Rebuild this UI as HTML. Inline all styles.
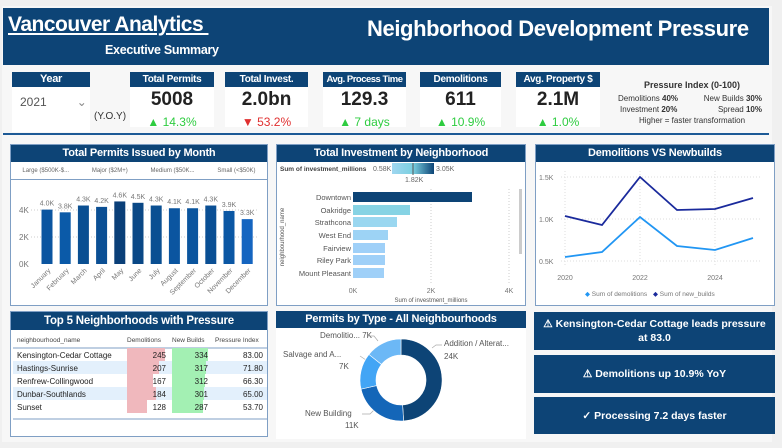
<!DOCTYPE html><html><head><meta charset="utf-8"><style>
*{margin:0;padding:0;box-sizing:border-box}
body{width:782px;height:448px;background:#f0f0f0;font-family:"Liberation Sans",sans-serif;position:relative;overflow:hidden}
.a{position:absolute}
.card{background:#fff;position:absolute}
.card .h{background:#0d4476;color:#fff;font-size:10px;text-align:center;height:15px;line-height:15px;font-weight:bold;letter-spacing:-0.3px;white-space:nowrap;overflow:hidden}
.card .v{font-size:19px;font-weight:bold;text-align:center;margin-top:2px;color:#222}
.card .c{font-size:12px;text-align:center;margin-top:4px;color:#2ecc40}
.panel{position:absolute;background:#fff;border:1px solid #7f9fc4}
.pt{background:#0d4476;color:#fff;font-weight:bold;font-size:11px;text-align:center;height:17px;line-height:17px;letter-spacing:-0.2px}
.alert{position:absolute;left:534px;width:241px;background:#0d4476;color:#fff;font-weight:bold;font-size:10.5px;text-align:center;display:flex;align-items:center;justify-content:center;line-height:14px}
</style></head><body>
<div class="a" style="left:2px;top:6px;width:770px;height:436px;background:#f7f7f7"></div>
<div class="a" style="left:3px;top:8px;width:766px;height:57px;background:#0d4476"></div>
<div class="a" style="left:8px;top:13px;color:#fff;font-size:21px;font-weight:bold;text-decoration:underline;letter-spacing:-0.5px">Vancouver Analytics&nbsp;</div>
<div class="a" style="left:105px;top:43px;color:#fff;font-size:12.5px;font-weight:bold;letter-spacing:-0.3px">Executive Summary</div>
<div class="a" style="left:367px;top:16px;color:#fff;font-size:22px;font-weight:bold;letter-spacing:-0.4px">Neighborhood Development Pressure</div>

<div class="card" style="left:12px;top:72px;width:78px;height:60px"><div class="h" style="font-size:11px">Year</div>
<div style="font-size:12px;color:#555;margin:8px 0 0 8px">2021<span style="margin-left:30px;color:#888">&#8964;</span></div></div>
<div class="a" style="left:94px;top:111px;font-size:10px;color:#333">(Y.O.Y)</div>
<div class="card" style="left:130px;top:72px;width:84px;height:55px"><div class="h">Total Permits</div><div class="v">5008</div><div class="c">▲ 14.3%</div></div>
<div class="card" style="left:225px;top:72px;width:83px;height:55px"><div class="h">Total Invest.</div><div class="v">2.0bn</div><div class="c" style="color:#e03030">▼ 53.2%</div></div>
<div class="card" style="left:323px;top:72px;width:83px;height:55px"><div class="h" style="font-size:9.5px;letter-spacing:-0.5px">Avg. Process Time</div><div class="v">129.3</div><div class="c">▲ 7 days</div></div>
<div class="card" style="left:420px;top:72px;width:81px;height:55px"><div class="h">Demolitions</div><div class="v">611</div><div class="c">▲ 10.9%</div></div>
<div class="card" style="left:516px;top:72px;width:84px;height:55px"><div class="h">Avg. Property $</div><div class="v">2.1M</div><div class="c">▲ 1.0%</div></div>
<div class="a" style="left:612px;top:80px;width:160px;font-size:8px;color:#333;line-height:11px">
<div style="text-align:center;font-size:9px;font-weight:bold;margin-bottom:2px">Pressure Index (0-100)</div>
<div style="display:flex;justify-content:space-between;padding:0 10px 0 6px"><span>Demolitions <b>40%</b></span><span>New Builds <b>30%</b></span></div>
<div style="display:flex;justify-content:space-between;padding:0 10px 0 8px"><span>Investment <b>20%</b></span><span>Spread <b>10%</b></span></div>
<div style="text-align:center">Higher = faster transformation</div></div>
<div class="a" style="left:3px;top:133px;width:766px;height:2px;background:#1d5a96"></div>

<div class="panel" style="left:10px;top:144px;width:258px;height:162px"><div class="pt">Total Permits Issued by Month</div>
<div style="display:flex;justify-content:space-around;font-size:6px;color:#666;height:16px;line-height:14px;border-bottom:1px solid #7f9fc4;margin-top:2px"><span>Large ($500K-$...</span><span>Major ($2M+)</span><span>Medium ($50K...</span><span>Small (&lt;$50K)</span></div>
<svg class="a" style="left:0;top:0" width="258" height="162" viewBox="10 144 258 162">
<g stroke="#ccc" stroke-dasharray="1 2"><line x1="30" x2="258" y1="209" y2="209"/><line x1="30" x2="258" y1="236" y2="236"/></g>
<g font-size="8" fill="#777"><text x="18" y="212">4K</text><text x="18" y="239">2K</text><text x="18" y="266">0K</text></g>
<g id="bars"></g>
</svg></div>

<div class="panel" style="left:276px;top:144px;width:250px;height:162px"><div class="pt">Total Investment by Neighborhood</div>
<svg class="a" style="left:0;top:0" width="250" height="162" viewBox="276 144 250 162">
<defs><linearGradient id="g"><stop offset="0" stop-color="#9fd6f0"/><stop offset=".5" stop-color="#7ad0e0"/><stop offset="1" stop-color="#0d4476"/></linearGradient></defs>
<text x="279" y="170" font-size="6.5" font-weight="bold" fill="#444">Sum of investment_millions</text>
<text x="372" y="170" font-size="7" fill="#666">0.58K</text>
<rect x="391" y="162" width="42" height="11" fill="url(#g)"/><line x1="412" x2="412" y1="162" y2="174" stroke="#555"/>
<text x="435" y="170" font-size="7" fill="#666">3.05K</text><text x="404" y="181" font-size="7" fill="#666">1.82K</text>
<g stroke="#ccc" stroke-dasharray="1 2"><line x1="430" x2="430" y1="188" y2="282"/><line x1="508" x2="508" y1="188" y2="282"/></g>
<rect x="518" y="188" width="3" height="65" fill="#ccc"/>
<g font-size="7.5" fill="#555" text-anchor="end"><text x="350" y="199">Downtown</text><text x="350" y="212">Oakridge</text><text x="350" y="224">Strathcona</text><text x="350" y="237">West End</text><text x="350" y="250">Fairview</text><text x="350" y="262">Riley Park</text><text x="350" y="275">Mount Pleasant</text></g>
<rect x="352" y="191" width="119" height="10" fill="#0d4476"/>
<rect x="352" y="204" width="57" height="10" fill="#86d3e4"/>
<rect x="352" y="216" width="44" height="10" fill="#9ad7f0"/>
<rect x="352" y="229" width="35" height="10" fill="#9dd3f5"/>
<rect x="352" y="242" width="32" height="10" fill="#9fd0f8"/>
<rect x="352" y="254" width="32" height="10" fill="#9fd0f8"/>
<rect x="352" y="267" width="31" height="10" fill="#9fd0f8"/>
<g font-size="7" fill="#777" text-anchor="middle"><text x="352" y="292">0K</text><text x="430" y="292">2K</text><text x="508" y="292">4K</text></g>
<text x="430" y="301" font-size="6" fill="#555" text-anchor="middle">Sum of investment_millions</text>
<text x="283" y="236" font-size="6" fill="#555" transform="rotate(-90 283 236)" text-anchor="middle">neighbourhood_name</text>
</svg></div>

<div class="panel" style="left:535px;top:144px;width:240px;height:162px"><div class="pt">Demolitions VS Newbuilds</div>
<svg class="a" style="left:0;top:0" width="240" height="162" viewBox="535 144 240 162">
<g stroke="#ddd" stroke-dasharray="1 2"><line x1="560" x2="760" y1="176" y2="176"/><line x1="560" x2="760" y1="218" y2="218"/><line x1="560" x2="760" y1="260" y2="260"/><line x1="564" x2="564" y1="170" y2="265"/><line x1="639" x2="639" y1="170" y2="265"/><line x1="714" x2="714" y1="170" y2="265"/></g>
<g font-size="7" fill="#777"><text x="538" y="179">1.5K</text><text x="538" y="221">1.0K</text><text x="538" y="263">0.5K</text></g>
<g font-size="7" fill="#777" text-anchor="middle"><text x="564" y="279">2020</text><text x="639" y="279">2022</text><text x="714" y="279">2024</text></g>
<polyline fill="none" stroke="#1a2a9c" stroke-width="1.8" points="564,215 601,224 639,176 676,209 714,208 752,197"/>
<polyline fill="none" stroke="#2196f3" stroke-width="1.8" points="564,256 601,251 639,216 676,245 714,249 752,237"/>
<g font-size="6.5" fill="#777"><text x="584" y="295"><tspan fill="#2196f3">◆</tspan> Sum of demolitions</text><text x="652" y="295"><tspan fill="#1a2a9c">◆</tspan> Sum of new_builds</text></g>
</svg></div>

<div class="panel" style="left:10px;top:311px;width:258px;height:126px"><div class="pt" style="height:18px;line-height:18px;font-size:11.5px">Top 5 Neighborhoods with Pressure</div>
<svg class="a" style="left:0;top:0" width="258" height="126" viewBox="10 311 258 126">
<g font-size="6.5" fill="#444"><text x="16" y="341">neighbourhood_name</text><text x="126" y="341">Demolitions</text><text x="171" y="341">New Builds</text><text x="214" y="341">Pressure Index</text></g>
<line x1="12" x2="266" y1="347" y2="347" stroke="#7f9fc4"/>
<rect x="12" y="360" width="254" height="13" fill="#e3f0fc"/><rect x="12" y="386" width="254" height="13" fill="#e3f0fc"/>
<g fill="#f0b8bd"><rect x="126" y="347" width="38" height="13"/><rect x="126" y="360" width="32" height="13"/><rect x="126" y="373" width="26" height="13"/><rect x="126" y="386" width="29" height="13"/><rect x="126" y="399" width="20" height="13"/></g>
<g fill="#a3f0b3"><rect x="171" y="347" width="36" height="13"/><rect x="171" y="360" width="34" height="13"/><rect x="171" y="373" width="33" height="13"/><rect x="171" y="386" width="32" height="13"/><rect x="171" y="399" width="31" height="13"/></g>
<g font-size="8" fill="#222"><text x="16" y="357">Kensington-Cedar Cottage</text><text x="16" y="370">Hastings-Sunrise</text><text x="16" y="383">Renfrew-Collingwood</text><text x="16" y="396">Dunbar-Southlands</text><text x="16" y="409">Sunset</text></g>
<g font-size="8" fill="#222" text-anchor="end"><text x="165" y="357">245</text><text x="165" y="370">207</text><text x="165" y="383">167</text><text x="165" y="396">184</text><text x="165" y="409">128</text>
<text x="207" y="357">334</text><text x="207" y="370">317</text><text x="207" y="383">312</text><text x="207" y="396">301</text><text x="207" y="409">287</text>
<text x="262" y="357">83.00</text><text x="262" y="370">71.80</text><text x="262" y="383">66.30</text><text x="262" y="396">65.00</text><text x="262" y="409">53.70</text></g>
<line x1="12" x2="266" y1="418" y2="418" stroke="#7f9fc4"/>
</svg></div>

<div class="a" style="left:276px;top:311px;width:250px;height:128px;background:#fff"><div class="pt">Permits by Type - All Neighbourhoods</div>
<svg class="a" style="left:0;top:0" width="250" height="128" viewBox="276 311 250 128" id="dn">
<g font-size="8" fill="#555"><text x="320" y="338">Demolitio... 7K</text><text x="283" y="357">Salvage and A...</text><text x="339" y="369">7K</text><text x="305" y="416">New Building</text><text x="345" y="428">11K</text><text x="444" y="346">Addition / Alterat...</text><text x="444" y="359">24K</text></g>
<g stroke="#aaa" fill="none" stroke-width=".7"><polyline points="368,336 374,336 378,341"/><polyline points="360,356 366,360"/><polyline points="362,414 370,414 375,409"/><polyline points="442,345 436,345 432,348"/></g>
</svg></div>

<div class="alert" style="top:312px;height:38px">⚠ Kensington-Cedar Cottage leads pressure<br>at 83.0</div>
<div class="alert" style="top:355px;height:38px">⚠ Demolitions up 10.9% YoY</div>
<div class="alert" style="top:397px;height:37px">✓ Processing 7.2 days faster</div>

<script>
var v=[4.0,3.8,4.3,4.2,4.6,4.5,4.3,4.1,4.1,4.3,3.9,3.3],m=["January","February","March","April","May","June","July","August","September","October","November","December"],
c=["#0b55a0","#0b5aa8","#0a4f92","#0b4f94","#0a3f78","#0a4886","#0a4f92","#0b55a0","#0b559e","#0a4f94","#0b57a4","#1565c0"],s="";
for(var i=0;i<12;i++){var x=46+i*18.2,h=v[i]*13.6,y=263-h;
s+='<rect x="'+(x-5.5)+'" y="'+y+'" width="11" height="'+h+'" fill="'+c[i]+'"/>';
s+='<text x="'+x+'" y="'+(y-4)+'" font-size="7" fill="#777" text-anchor="middle">'+v[i].toFixed(1)+'K</text>';
s+='<text x="'+(x+4)+'" y="270" font-size="7" fill="#777" text-anchor="end" transform="rotate(-45 '+(x+4)+' 270)">'+m[i]+'</text>';}
document.getElementById("bars").innerHTML=s;
var cx=401,cy=380,R=41,r=25,segs=[[24,"#0d4476"],[11,"#1466b8"],[7,"#42a5f5"],[7,"#6cb8f6"]],a=0,d="";
function P(rad,ang){return (cx+rad*Math.sin(ang)).toFixed(2)+","+(cy-rad*Math.cos(ang)).toFixed(2)}
segs.forEach(function(g){var b=a+g[0]/49*2*Math.PI,l=(b-a)>Math.PI?1:0;
d+='<path d="M'+P(R,a)+' A'+R+','+R+' 0 '+l+' 1 '+P(R,b)+' L'+P(r,b)+' A'+r+','+r+' 0 '+l+' 0 '+P(r,a)+'Z" fill="'+g[1]+'" stroke="#fff" stroke-width=".6"/>';a=b;});
document.getElementById("dn").insertAdjacentHTML("beforeend",d);
</script>
</body></html>
